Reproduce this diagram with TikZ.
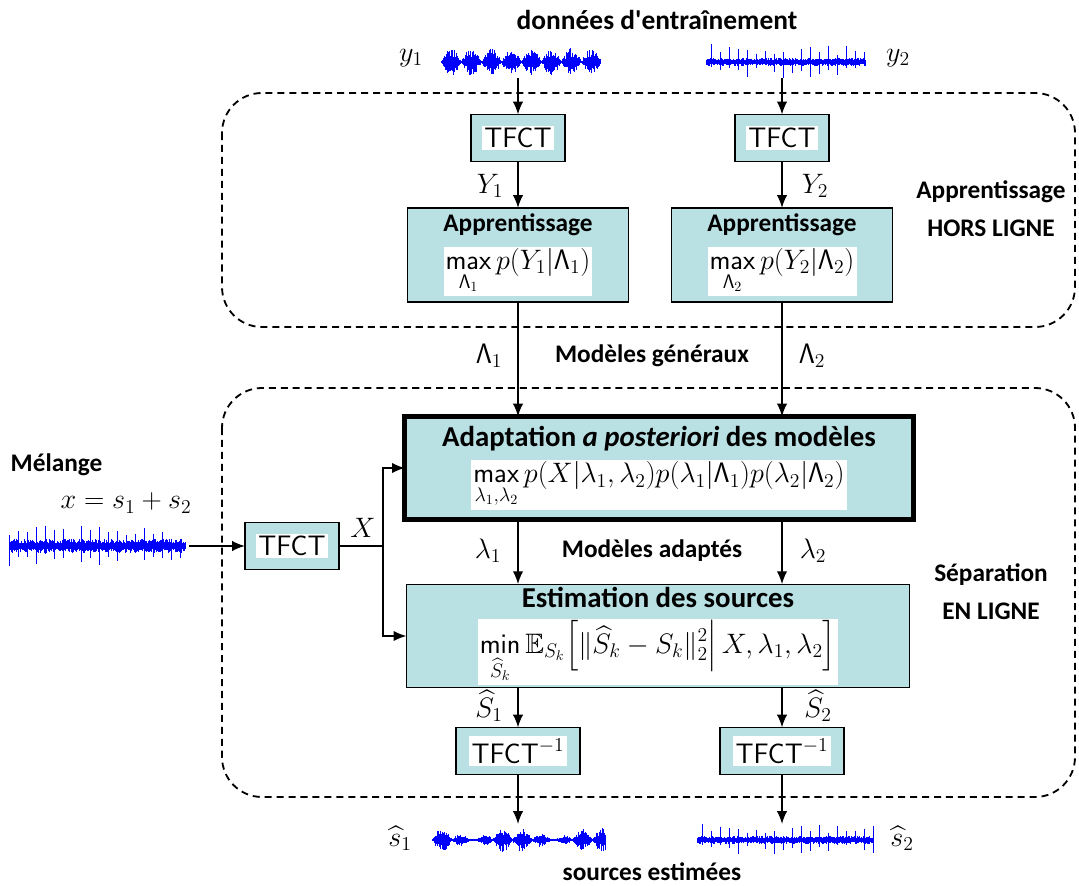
\RequirePackage{fix-cm}
\documentclass[tikz,border=0pt]{standalone}
\usepackage{amsmath,amssymb}
\usepackage[no-math]{fontspec}
\newfontfamily\calib{Carlito}
\usetikzlibrary{positioning,arrows.meta,calc}
\definecolor{boxfill}{RGB}{185,224,227}
\definecolor{waveblue}{RGB}{0,0,255}

\newcommand{\Lam}{\mathsf{\Lambda}}
\DeclareMathOperator*{\smax}{\mathsf{max}}
\DeclareMathOperator*{\smin}{\mathsf{min}}
\newcommand{\wbox}[1]{{\setlength{\fboxsep}{1.5pt}\colorbox{white}{#1}}}

% waveforms: x0, x1, y, amplitude, seed, slow envelope
\newcommand{\speechwave}[6]{%
  \pgfmathsetseed{#5}
  \draw[wave] foreach \i in {#1,...,#2}{
    (\i,{#3-0.8-#4*(0.3+0.7*rnd)*abs(sin(9*(\i-#1)))*abs(sin(#6*(\i-#1)+90))})
    -- (\i,{#3+0.8+#4*(0.3+0.7*rnd)*abs(sin(9*(\i-#1)))*abs(sin(#6*(\i-#1)+90))})};
}
% x0, x1, y, base, spike
\newcommand{\musicwave}[5]{%
  \pgfmathsetseed{7}
  \draw[wave] foreach \i in {#1,...,#2}{
    (\i,{#3-1-#4*(0.3+0.7*rnd)-#5*rnd*equal(mod(\i,9),0)})
    -- (\i,{#3+1+#4*(0.3+0.7*rnd)+#5*rnd*equal(mod(\i,9),0)})};
}

\begin{document}
\begin{tikzpicture}[x=0.025cm,y=-0.025cm,
  >={Latex[length=3.2mm,width=2.6mm]},
  every node/.style={outer sep=0pt},
  box/.style={draw, fill=boxfill, line width=0.9pt, align=center, inner sep=2pt,
    font=\fontsize{20}{23}\selectfont},
  tfct/.style={box, minimum width=2.35cm, minimum height=1.175cm},
  itfct/.style={box, minimum width=3.1cm, minimum height=1.175cm},
  appr/.style={box, minimum width=5.525cm, minimum height=2.35cm},
  lbl/.style={font=\calib\bfseries\fontsize{18}{21}\selectfont, align=center},
  mlbl/.style={font=\fontsize{20}{23}\selectfont},
  wavenode/.style={minimum height=0.8cm, inner sep=0pt},
  wave/.style={draw=waveblue, line width=0.7pt},
  group/.style={dashed, line width=1.3pt, dash pattern=on 5pt off 3.5pt, rounded corners=1cm},
  link/.style={line width=1.2pt}]

  \useasboundingbox (0,0) rectangle (1079,886);

  % training data
  \node(DT)[lbl, font=\calib\bfseries\fontsize{19.5}{22}\selectfont] at (657,20) {données d'entraînement};
  \node(W1)[wavenode, minimum width=4cm] at (520,62) {};
  \node(W2)[wavenode, minimum width=4cm] at (785,62) {};
  \node(y1)[mlbl] at (411,58) {$y_1$};
  \node(y2)[mlbl] at (898,58) {$y_2$};
  \speechwave{441}{600}{62}{13}{3}{0}
  \musicwave{706}{865}{62}{3}{15}

  % offline learning
  \draw[group] (222,93) rectangle (1075,327);
  \node(T1)[tfct] at (518,138) {\wbox{\textsf{TFCT}}};
  \node(T2)[tfct] at (782,138) {\wbox{\textsf{TFCT}}};
  \node(A1)[appr] at (518,255) {{\calib\bfseries\fontsize{18}{21}\selectfont Apprentissage}\\[4pt]
    \wbox{$\displaystyle\smax_{\Lam_1} p(Y_1|\Lam_1)$}};
  \node(A2)[appr] at (782,255) {{\calib\bfseries\fontsize{18}{21}\selectfont Apprentissage}\\[4pt]
    \wbox{$\displaystyle\smax_{\Lam_2} p(Y_2|\Lam_2)$}};
  \node(Y1)[mlbl] at (490,186) {$Y_1$};
  \node(Y2)[mlbl] at (815,186) {$Y_2$};
  \node(HL)[lbl] at (991,209) {Apprentissage\\[6pt]HORS LIGNE};

  \node(L1)[mlbl] at (489,356) {$\Lam_1$};
  \node(MG)[lbl] at (652,356) {Modèles généraux};
  \node(L2)[mlbl] at (812,356) {$\Lam_2$};

  % online separation
  \draw[group] (222,388) rectangle (1075,797);
  \node(AD)[box, line width=3.5pt, minimum width=12.7cm, minimum height=2.575cm] at (659,468)
    {{\calib\bfseries\fontsize{20.5}{23}\selectfont Adaptation \textit{a posteriori} des modèles}\\[3pt]
     \wbox{$\displaystyle\smax_{\lambda_1,\lambda_2} p(X|\lambda_1,\lambda_2)p(\lambda_1|\Lam_1)p(\lambda_2|\Lam_2)$}};
  \node(ES)[box, minimum width=12.575cm, minimum height=2.55cm] at (658,636)
    {{\calib\bfseries\fontsize{20.5}{23}\selectfont Estimation des sources}\\[7pt]
     \wbox{$\displaystyle\smin_{\widehat{S}_k} \mathbb{E}_{S_k}\Big[\|\widehat{S}_k - S_k\|_2^2\Big|\, X,\lambda_1,\lambda_2\Big]$}};
  \node(l1)[mlbl] at (488,551) {$\lambda_1$};
  \node(MA)[lbl] at (652,551) {Modèles adaptés};
  \node(l2)[mlbl] at (813,551) {$\lambda_2$};
  \node(SE)[lbl] at (991,592) {Séparation\\[6pt]EN LIGNE};

  % mixture
  \node(ML)[lbl, anchor=west] at (6,465) {Mélange};
  \node(MX)[mlbl] at (126,503) {$x = s_1 + s_2$};
  \node(W0)[wavenode, minimum width=4.6cm] at (97,546) {};
  \musicwave{9}{185}{546}{6}{15}
  \node(T0)[tfct] at (292,546) {\wbox{\textsf{TFCT}}};
  \coordinate(J) at (383,546);
  \node(X)[mlbl] at (363,528) {$X$};

  % inverse transforms
  \node(S1)[mlbl] at (489,706) {$\widehat{S}_1$};
  \node(S2)[mlbl] at (818,706) {$\widehat{S}_2$};
  \node(I1)[itfct] at (518,751) {\wbox{$\textsf{TFCT}^{-1}$}};
  \node(I2)[itfct] at (782,751) {\wbox{$\textsf{TFCT}^{-1}$}};

  % estimated sources
  \node(V1)[wavenode, minimum width=4.3cm] at (518,840) {};
  \node(V2)[wavenode, minimum width=4.3cm] at (784,840) {};
  \node(s1)[mlbl] at (400,838) {$\widehat{s}_1$};
  \node(s2)[mlbl] at (902,838) {$\widehat{s}_2$};
  \speechwave{432}{605}{840}{12}{5}{2.2}
  \musicwave{697}{873}{840}{3}{13}
  \node(SO)[lbl] at (652,872) {sources estimées};

  \draw[link,->] (W1.south -| T1) -- (T1);
  \draw[link,->] (W2.south -| T2) -- (T2);
  \draw[link,->] (T1) -- (A1);
  \draw[link,->] (T2) -- (A2);
  \draw[link,->] (A1) -- (A1 |- AD.north);
  \draw[link,->] (A2) -- (A2 |- AD.north);
  \draw[link,->] (AD.south -| A1) -- (ES.north -| A1);
  \draw[link,->] (AD.south -| A2) -- (ES.north -| A2);
  \draw[link,->] (W0) -- (T0);
  \draw[link] (T0) -- (J);
  \draw[link,->] (J) |- (AD);
  \draw[link,->] (J) |- (ES);
  \draw[link,->] (ES.south -| I1) -- (I1);
  \draw[link,->] (ES.south -| I2) -- (I2);
  \draw[link,->] (I1) -- (V1.north -| I1);
  \draw[link,->] (I2) -- (V2.north -| I2);
\end{tikzpicture}
\end{document}
